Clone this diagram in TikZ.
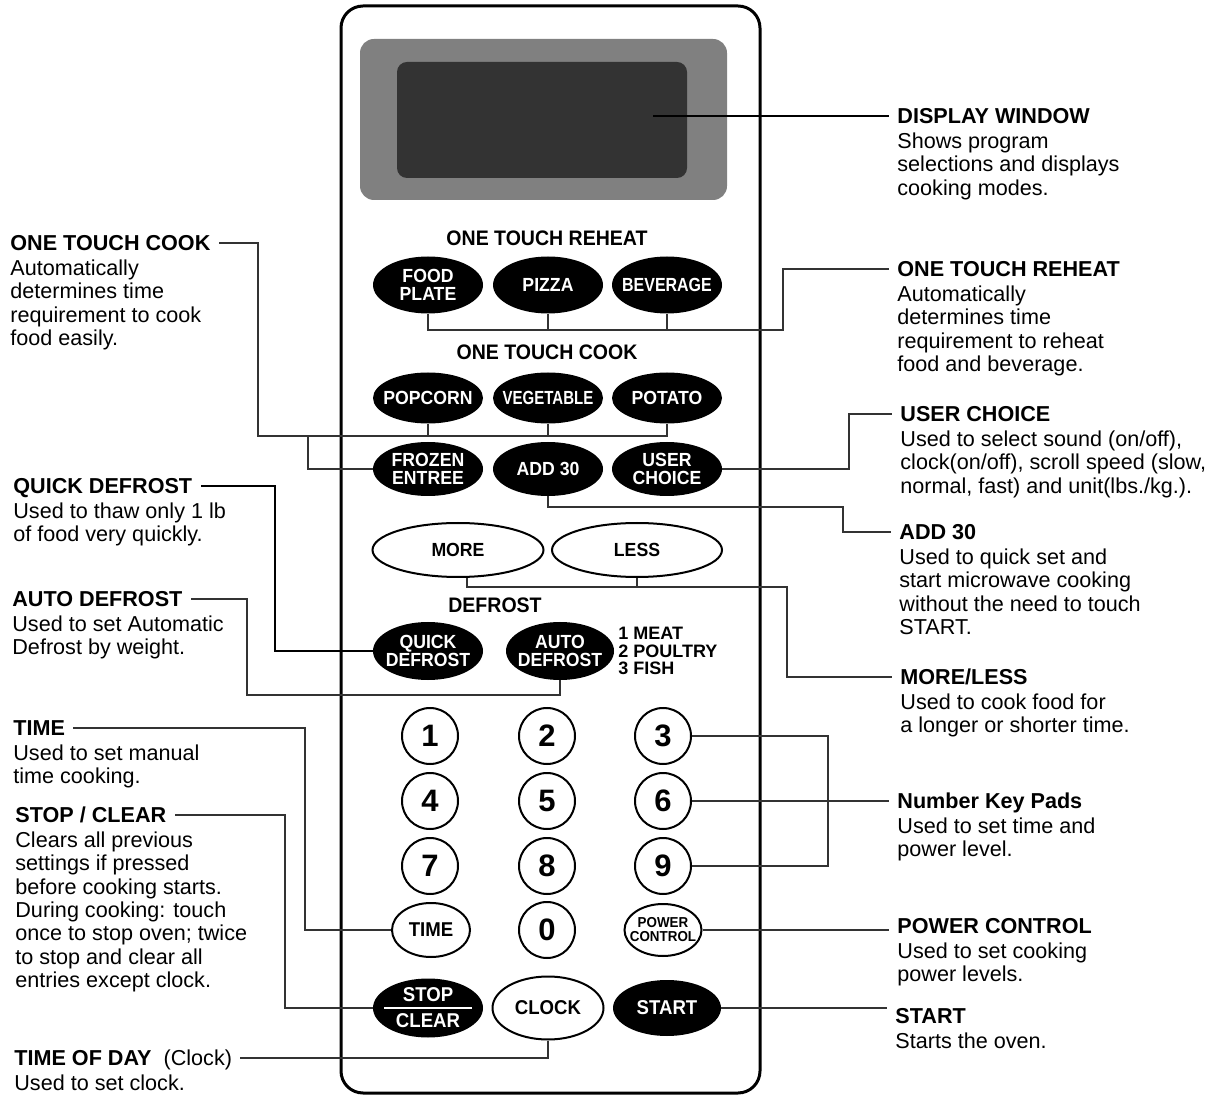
\documentclass[tikz,border=0pt]{standalone}
\usepackage{fontspec}
\setmainfont{Liberation Sans}
\newfontfamily\keyfamily{Liberation Sans}[FakeStretch=0.93]
\newfontfamily\keynarrow{Liberation Sans}[FakeStretch=0.84]
\newfontfamily\keythin{Liberation Sans}[FakeStretch=0.79]
\usetikzlibrary{shapes.geometric,positioning}

\definecolor{bezelgray}{HTML}{808080}
\definecolor{lcdgray}{HTML}{333333}

\newcommand\hdfont{\fontsize{10.8pt}{11.65pt}\selectfont\bfseries}
\newcommand\txfont{\fontsize{10.8pt}{11.65pt}\selectfont}
\newcommand\kyfont{\keyfamily\fontsize{9.5pt}{9.2pt}\selectfont\bfseries}
\newcommand\kybig{\keyfamily\fontsize{10pt}{13pt}\selectfont\bfseries}

\begin{document}
\begin{tikzpicture}[x=0.5pt,y=-0.5pt,
    leader/.style={line width=0.65pt, black!80},
    blackkey/.style={ellipse, fill=black, text=white, font=\kyfont, align=center,
      inner sep=-12pt, minimum width=55pt},
    whitekey/.style={ellipse, draw, line width=1pt, fill=white, font=\kyfont,
      align=center, inner sep=-12pt},
    numkey/.style={circle, draw, line width=1pt, minimum size=28pt, inner sep=0pt,
      font=\fontsize{15.5pt}{15.5pt}\selectfont\bfseries},
    grouptitle/.style={font=\keyfamily\fontsize{10.5pt}{10.5pt}\selectfont\bfseries},
    callhead/.style={font=\hdfont, anchor=west, inner xsep=4pt, inner ysep=0pt,
      text height=8pt, text depth=0.4pt},
    calltext/.style={font=\txfont, align=left, inner xsep=4pt, inner ysep=0pt}]
  \useasboundingbox (0,0) rectangle (1225,1095);

  % panel and display
  \draw[line width=1.5pt, rounded corners=11pt] (341,6) rectangle (760,1093);
  \fill[bezelgray, rounded corners=7pt] (360,39) rectangle (727,200);
  \fill[lcdgray, rounded corners=5pt] (397,62) rectangle (687,178);
  \coordinate (lcdTip) at (653,116);

  % keys
  \node[grouptitle] (rhTitle) at (547,238) {ONE TOUCH REHEAT};
  \node[blackkey, minimum height=28.5pt] (food) at (428,285) {FOOD\\PLATE};
  \node[blackkey, minimum height=28.5pt] (pizza) at (548,285) {PIZZA};
  \node[blackkey, minimum height=28.5pt] (bev) at (667,285) {\keynarrow BEVERAGE};
  \node[grouptitle] (otcTitle) at (547,352) {ONE TOUCH COOK};
  \node[blackkey, minimum height=25.5pt] (popcorn) at (428,398) {POPCORN};
  \node[blackkey, minimum height=25.5pt] (veg) at (548,398) {\keythin VEGETABLE};
  \node[blackkey, minimum height=25.5pt] (potato) at (667,398) {POTATO};
  \node[blackkey, minimum height=27pt] (frozen) at (428,469) {FROZEN\\ENTREE};
  \node[blackkey, minimum height=27pt] (add) at (548,469) {ADD 30};
  \node[blackkey, minimum height=27pt] (user) at (667,469) {USER\\CHOICE};
  \node[whitekey, minimum width=85.5pt, minimum height=27pt] (more) at (458,550) {MORE};
  \node[whitekey, minimum width=85pt, minimum height=27pt] (less) at (637,550) {LESS};
  \node[grouptitle] (dfTitle) at (495,605) {DEFROST};
  \node[blackkey, minimum height=29pt] (quick) at (428,651) {QUICK\\DEFROST};
  \node[blackkey, minimum width=54pt, minimum height=29pt] (auto) at (560,651) {AUTO\\DEFROST};
  \node[anchor=west, inner sep=2pt, align=left,
    font=\fontsize{9pt}{8.8pt}\selectfont\bfseries] (meats) at (614,651)
    {1 MEAT\\2 POULTRY\\3 FISH};
  \foreach \d/\x/\y in {1/430/736, 2/547/736, 3/663/736,
                        4/430/801, 5/547/801, 6/663/801,
                        7/430/866, 8/547/866, 9/663/866, 0/547/930}
    \node[numkey] (k\d) at (\x,\y) {\d};
  \node[whitekey, font=\kybig, minimum width=39pt, minimum height=27pt] (time) at (431,930) {TIME};
  \node[whitekey, font=\keyfamily\fontsize{7.2pt}{7pt}\selectfont\bfseries,
    minimum width=38.5pt, minimum height=26pt] (pc) at (663,930) {POWER\\CONTROL};
  \node[blackkey, font=\kybig, minimum height=29.5pt] (stop) at (428,1008) {STOP\\CLEAR};
  \draw[white, line width=0.9pt] ([xshift=-22pt]stop.center) -- ([xshift=22pt]stop.center);
  \node[whitekey, font=\kybig, minimum width=55.5pt, minimum height=31.5pt] (clock) at (548,1008) {CLOCK};
  \node[blackkey, font=\kybig, minimum width=54pt, minimum height=28pt] (start) at (667,1008) {START};

  % right callouts
  \node[callhead] (dwHead) at (889,116) {DISPLAY WINDOW};
  \node[calltext, below right=3.9pt and 0pt of dwHead.south west] (dwText)
    {Shows program\\selections and displays\\cooking modes.};
  \node[callhead] (rhHead) at (889,269) {ONE TOUCH REHEAT};
  \node[calltext, below right=3.9pt and 0pt of rhHead.south west] (rhText)
    {Automatically\\determines time\\requirement to reheat\\food and beverage.};
  \node[callhead] (ucHead) at (892,414) {USER CHOICE};
  \node[calltext, below right=3.9pt and 0pt of ucHead.south west] (ucText)
    {Used to select sound (on/off),\\clock(on/off), scroll speed (slow,\\normal, fast) and unit(lbs./kg.).};
  \node[callhead] (adHead) at (891,532) {ADD 30};
  \node[calltext, below right=3.9pt and 0pt of adHead.south west] (adText)
    {Used to quick set and\\start microwave cooking\\without the need to touch\\START.};
  \node[callhead] (mlHead) at (892,677) {MORE/LESS};
  \node[calltext, below right=3.9pt and 0pt of mlHead.south west] (mlText)
    {Used to cook food for\\a longer or shorter time.};
  \node[callhead] (nkHead) at (889,801) {Number Key Pads};
  \node[calltext, below right=3.9pt and 0pt of nkHead.south west] (nkText)
    {Used to set time and\\power level.};
  \node[callhead] (pcHead) at (889,926) {POWER CONTROL};
  \node[calltext, below right=3.9pt and 0pt of pcHead.south west] (pcText)
    {Used to set cooking\\power levels.};
  \node[callhead] (stHead) at (887,1016) {START};
  \node[calltext, below right=3.9pt and 0pt of stHead.south west] (stText)
    {Starts the oven.};

  % left callouts
  \node[callhead] (otcHead) at (2,243) {ONE TOUCH COOK};
  \node[calltext, below right=3.9pt and 0pt of otcHead.south west] (otcText)
    {Automatically\\determines time\\requirement to cook\\food easily.};
  \node[callhead] (qdHead) at (5,486) {QUICK DEFROST};
  \node[calltext, below right=3.9pt and 0pt of qdHead.south west] (qdText)
    {Used to thaw only 1 lb\\of food very quickly.};
  \node[callhead] (adfHead) at (4,599) {AUTO DEFROST};
  \node[calltext, below right=3.9pt and 0pt of adfHead.south west] (adfText)
    {Used to set Automatic\\Defrost by weight.};
  \node[callhead] (tmHead) at (5,728) {TIME};
  \node[calltext, below right=3.9pt and 0pt of tmHead.south west] (tmText)
    {Used to set manual\\time cooking.};
  \node[callhead] (scHead) at (7,815) {STOP / CLEAR};
  \node[calltext, below right=3.9pt and 0pt of scHead.south west] (scText)
    {Clears all previous\\settings if pressed\\before cooking starts.\\During cooking: touch\\once to stop oven; twice\\to stop and clear all\\entries except clock.};
  \node[callhead] (todHead) at (6,1058) {TIME OF DAY\ \ {\mdseries(Clock)}};
  \node[calltext, below right=3.9pt and 0pt of todHead.south west] (todText)
    {Used to set clock.};

  % leaders
  \coordinate (rhBus) at (783,330);
  \coordinate (otcBus) at (258,436);
  \coordinate (otcDrop) at (308,436);
  \coordinate (ucBend) at (849,440);
  \coordinate (a30Bend) at (843,507);
  \coordinate (mlBend) at (787,587);
  \coordinate (qdBend) at (275,560);
  \coordinate (adfBend) at (247,695);
  \coordinate (nkBus) at (828,800);
  \coordinate (tmBend) at (305,830);
  \coordinate (scBend) at (285,900);
  \draw[leader, black] (lcdTip) -- (dwHead.west);
  \draw[leader] (food.south) |- (rhBus) |- (rhHead.west);
  \draw[leader] (pizza.south) -- (pizza.south |- rhBus);
  \draw[leader] (bev.south) -- (bev.south |- rhBus);
  \draw[leader] (potato.south) |- (otcBus) |- (otcHead.east);
  \draw[leader] (popcorn.south) -- (popcorn.south |- otcBus);
  \draw[leader] (veg.south) -- (veg.south |- otcBus);
  \draw[leader] (frozen.west) -| (otcDrop);
  \draw[leader] (user.east) -| (ucBend) |- (ucHead.west);
  \draw[leader] (add.south) |- (a30Bend) |- (adHead.west);
  \draw[leader] ([xshift=4.5pt]more.south) |- (mlBend) |- (mlHead.west);
  \draw[leader] (less.south) -- (less.south |- mlBend);
  \draw[leader, black] (quick.west) -| (qdBend) |- (qdHead.east);
  \draw[leader] (auto.south) |- (adfBend) |- (adfHead.east);
  \draw[leader] (k3.east) -| (nkBus) |- (k9.east);
  \draw[leader] (k6.east) -- (nkHead.west);
  \draw[leader] (pc.east) -- (pc.east -| pcHead.west);
  \draw[leader] (start.east) -- (start.east -| stHead.west);
  \draw[leader] (time.west) -| (tmBend) |- (tmHead.east);
  \draw[leader] (stop.west) -| (scBend) |- (scHead.east);
  \draw[leader] (clock.south) |- (todHead.east);
\end{tikzpicture}
\end{document}
